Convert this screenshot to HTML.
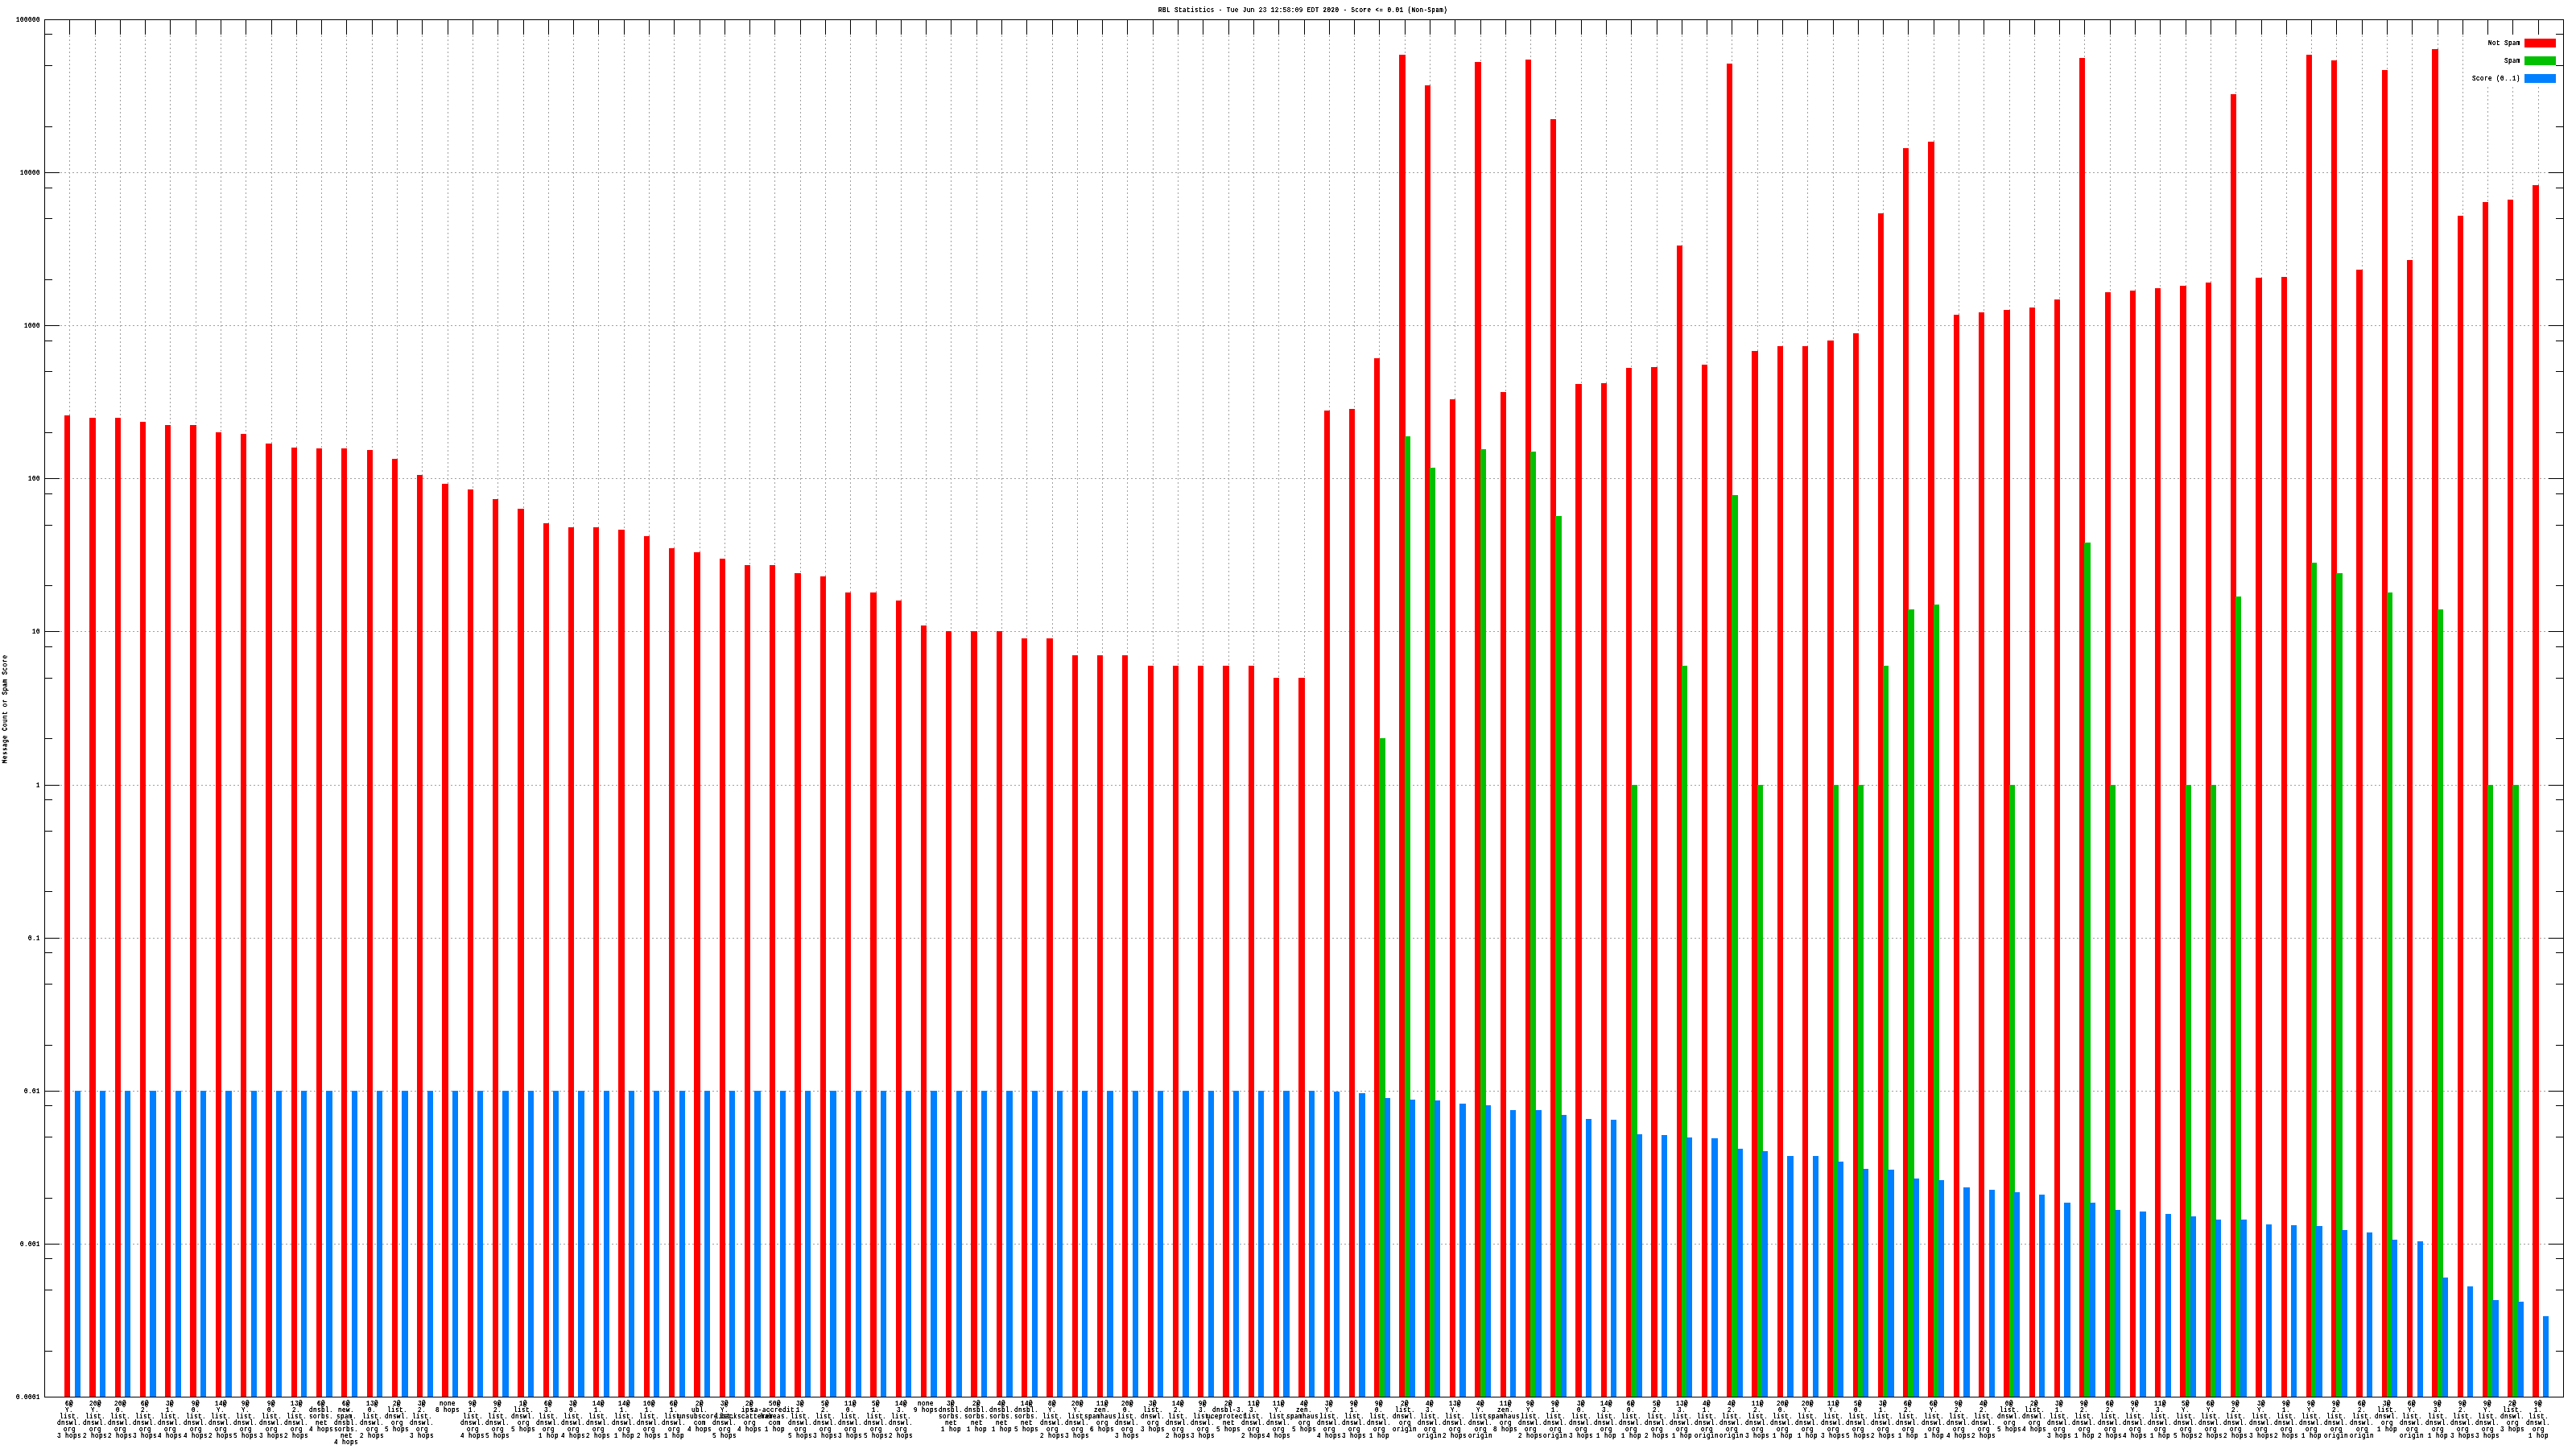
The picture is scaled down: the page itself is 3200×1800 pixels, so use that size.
<!DOCTYPE html>
<html lang="en"><head><meta charset="utf-8"><title>RBL Statistics</title>
<style>
html,body{margin:0;padding:0;background:#fff}
svg{display:block}
text{font-family:"Liberation Mono",monospace;font-size:7.5px;fill:#000;white-space:pre;letter-spacing:0.5px}
.g{stroke:#a0a0a0;stroke-width:1;stroke-dasharray:2 3;fill:none}
.k{stroke:#000;stroke-width:1;fill:none}
.r{fill:#f00}.n{fill:#00c000}.b{fill:#0080ff}
</style></head><body>
<svg width="3200" height="1800" viewBox="0 0 3200 1800" shape-rendering="crispEdges">
<defs><filter id="tf" x="0" y="0" width="3200" height="1800" filterUnits="userSpaceOnUse" color-interpolation-filters="sRGB"><feComponentTransfer><feFuncA type="linear" slope="3" intercept="-0.4"/></feComponentTransfer></filter></defs>
<rect width="3200" height="1800" fill="#fff"/>
<g class="g">
<line x1="86.5" y1="24" x2="86.5" y2="1735"/><line x1="118.5" y1="24" x2="118.5" y2="1735"/><line x1="149.5" y1="24" x2="149.5" y2="1735"/><line x1="180.5" y1="24" x2="180.5" y2="1735"/><line x1="211.5" y1="24" x2="211.5" y2="1735"/><line x1="243.5" y1="24" x2="243.5" y2="1735"/><line x1="274.5" y1="24" x2="274.5" y2="1735"/><line x1="305.5" y1="24" x2="305.5" y2="1735"/><line x1="337.5" y1="24" x2="337.5" y2="1735"/><line x1="368.5" y1="24" x2="368.5" y2="1735"/><line x1="399.5" y1="24" x2="399.5" y2="1735"/><line x1="430.5" y1="24" x2="430.5" y2="1735"/><line x1="462.5" y1="24" x2="462.5" y2="1735"/><line x1="493.5" y1="24" x2="493.5" y2="1735"/><line x1="524.5" y1="24" x2="524.5" y2="1735"/><line x1="556.5" y1="24" x2="556.5" y2="1735"/><line x1="587.5" y1="24" x2="587.5" y2="1735"/><line x1="618.5" y1="24" x2="618.5" y2="1735"/><line x1="650.5" y1="24" x2="650.5" y2="1735"/><line x1="681.5" y1="24" x2="681.5" y2="1735"/><line x1="712.5" y1="24" x2="712.5" y2="1735"/><line x1="743.5" y1="24" x2="743.5" y2="1735"/><line x1="775.5" y1="24" x2="775.5" y2="1735"/><line x1="806.5" y1="24" x2="806.5" y2="1735"/><line x1="837.5" y1="24" x2="837.5" y2="1735"/><line x1="869.5" y1="24" x2="869.5" y2="1735"/><line x1="900.5" y1="24" x2="900.5" y2="1735"/><line x1="931.5" y1="24" x2="931.5" y2="1735"/><line x1="962.5" y1="24" x2="962.5" y2="1735"/><line x1="994.5" y1="24" x2="994.5" y2="1735"/><line x1="1025.5" y1="24" x2="1025.5" y2="1735"/><line x1="1056.5" y1="24" x2="1056.5" y2="1735"/><line x1="1088.5" y1="24" x2="1088.5" y2="1735"/><line x1="1119.5" y1="24" x2="1119.5" y2="1735"/><line x1="1150.5" y1="24" x2="1150.5" y2="1735"/><line x1="1181.5" y1="24" x2="1181.5" y2="1735"/><line x1="1213.5" y1="24" x2="1213.5" y2="1735"/><line x1="1244.5" y1="24" x2="1244.5" y2="1735"/><line x1="1275.5" y1="24" x2="1275.5" y2="1735"/><line x1="1307.5" y1="24" x2="1307.5" y2="1735"/><line x1="1338.5" y1="24" x2="1338.5" y2="1735"/><line x1="1369.5" y1="24" x2="1369.5" y2="1735"/><line x1="1400.5" y1="24" x2="1400.5" y2="1735"/><line x1="1432.5" y1="24" x2="1432.5" y2="1735"/><line x1="1463.5" y1="24" x2="1463.5" y2="1735"/><line x1="1494.5" y1="24" x2="1494.5" y2="1735"/><line x1="1526.5" y1="24" x2="1526.5" y2="1735"/><line x1="1557.5" y1="24" x2="1557.5" y2="1735"/><line x1="1588.5" y1="24" x2="1588.5" y2="1735"/><line x1="1620.5" y1="24" x2="1620.5" y2="1735"/><line x1="1651.5" y1="24" x2="1651.5" y2="1735"/><line x1="1682.5" y1="24" x2="1682.5" y2="1735"/><line x1="1713.5" y1="24" x2="1713.5" y2="1735"/><line x1="1745.5" y1="24" x2="1745.5" y2="1735"/><line x1="1776.5" y1="24" x2="1776.5" y2="1735"/><line x1="1807.5" y1="24" x2="1807.5" y2="1735"/><line x1="1839.5" y1="24" x2="1839.5" y2="1735"/><line x1="1870.5" y1="24" x2="1870.5" y2="1735"/><line x1="1901.5" y1="24" x2="1901.5" y2="1735"/><line x1="1932.5" y1="24" x2="1932.5" y2="1735"/><line x1="1964.5" y1="24" x2="1964.5" y2="1735"/><line x1="1995.5" y1="24" x2="1995.5" y2="1735"/><line x1="2026.5" y1="24" x2="2026.5" y2="1735"/><line x1="2058.5" y1="24" x2="2058.5" y2="1735"/><line x1="2089.5" y1="24" x2="2089.5" y2="1735"/><line x1="2120.5" y1="24" x2="2120.5" y2="1735"/><line x1="2151.5" y1="24" x2="2151.5" y2="1735"/><line x1="2183.5" y1="24" x2="2183.5" y2="1735"/><line x1="2214.5" y1="24" x2="2214.5" y2="1735"/><line x1="2245.5" y1="24" x2="2245.5" y2="1735"/><line x1="2277.5" y1="24" x2="2277.5" y2="1735"/><line x1="2308.5" y1="24" x2="2308.5" y2="1735"/><line x1="2339.5" y1="24" x2="2339.5" y2="1735"/><line x1="2370.5" y1="24" x2="2370.5" y2="1735"/><line x1="2402.5" y1="24" x2="2402.5" y2="1735"/><line x1="2433.5" y1="24" x2="2433.5" y2="1735"/><line x1="2464.5" y1="24" x2="2464.5" y2="1735"/><line x1="2496.5" y1="24" x2="2496.5" y2="1735"/><line x1="2527.5" y1="24" x2="2527.5" y2="1735"/><line x1="2558.5" y1="24" x2="2558.5" y2="1735"/><line x1="2589.5" y1="24" x2="2589.5" y2="1735"/><line x1="2621.5" y1="24" x2="2621.5" y2="1735"/><line x1="2652.5" y1="24" x2="2652.5" y2="1735"/><line x1="2683.5" y1="24" x2="2683.5" y2="1735"/><line x1="2715.5" y1="24" x2="2715.5" y2="1735"/><line x1="2746.5" y1="24" x2="2746.5" y2="1735"/><line x1="2777.5" y1="24" x2="2777.5" y2="1735"/><line x1="2809.5" y1="24" x2="2809.5" y2="1735"/><line x1="2840.5" y1="24" x2="2840.5" y2="1735"/><line x1="2871.5" y1="24" x2="2871.5" y2="1735"/><line x1="2902.5" y1="24" x2="2902.5" y2="1735"/><line x1="2934.5" y1="24" x2="2934.5" y2="1735"/><line x1="2965.5" y1="24" x2="2965.5" y2="1735"/><line x1="2996.5" y1="24" x2="2996.5" y2="1735"/><line x1="3028.5" y1="24" x2="3028.5" y2="1735"/><line x1="3059.5" y1="24" x2="3059.5" y2="1735"/><line x1="3090.5" y1="108" x2="3090.5" y2="1735"/><line x1="3121.5" y1="108" x2="3121.5" y2="1735"/><line x1="3153.5" y1="108" x2="3153.5" y2="1735"/>
<line x1="55" y1="1545.5" x2="3184" y2="1545.5"/><line x1="55" y1="1355.5" x2="3184" y2="1355.5"/><line x1="55" y1="1165.5" x2="3184" y2="1165.5"/><line x1="55" y1="975.5" x2="3184" y2="975.5"/><line x1="55" y1="784.5" x2="3184" y2="784.5"/><line x1="55" y1="594.5" x2="3184" y2="594.5"/><line x1="55" y1="404.5" x2="3184" y2="404.5"/><line x1="55" y1="214.5" x2="3184" y2="214.5"/>
</g>
<path class="k" d="M86.5 24V43M118.5 24V43M149.5 24V43M180.5 24V43M211.5 24V43M243.5 24V43M274.5 24V43M305.5 24V43M337.5 24V43M368.5 24V43M399.5 24V43M430.5 24V43M462.5 24V43M493.5 24V43M524.5 24V43M556.5 24V43M587.5 24V43M618.5 24V43M650.5 24V43M681.5 24V43M712.5 24V43M743.5 24V43M775.5 24V43M806.5 24V43M837.5 24V43M869.5 24V43M900.5 24V43M931.5 24V43M962.5 24V43M994.5 24V43M1025.5 24V43M1056.5 24V43M1088.5 24V43M1119.5 24V43M1150.5 24V43M1181.5 24V43M1213.5 24V43M1244.5 24V43M1275.5 24V43M1307.5 24V43M1338.5 24V43M1369.5 24V43M1400.5 24V43M1432.5 24V43M1463.5 24V43M1494.5 24V43M1526.5 24V43M1557.5 24V43M1588.5 24V43M1620.5 24V43M1651.5 24V43M1682.5 24V43M1713.5 24V43M1745.5 24V43M1776.5 24V43M1807.5 24V43M1839.5 24V43M1870.5 24V43M1901.5 24V43M1932.5 24V43M1964.5 24V43M1995.5 24V43M2026.5 24V43M2058.5 24V43M2089.5 24V43M2120.5 24V43M2151.5 24V43M2183.5 24V43M2214.5 24V43M2245.5 24V43M2277.5 24V43M2308.5 24V43M2339.5 24V43M2370.5 24V43M2402.5 24V43M2433.5 24V43M2464.5 24V43M2496.5 24V43M2527.5 24V43M2558.5 24V43M2589.5 24V43M2621.5 24V43M2652.5 24V43M2683.5 24V43M2715.5 24V43M2746.5 24V43M2777.5 24V43M2809.5 24V43M2840.5 24V43M2871.5 24V43M2902.5 24V43M2934.5 24V43M2965.5 24V43M2996.5 24V43M3028.5 24V43M3059.5 24V43M3090.5 24V43M3121.5 24V43M3153.5 24V43M55 1678.5H65M3185 1678.5H3175M55 1602.5H65M3185 1602.5H3175M55 1563.5H65M3185 1563.5H3175M55 1545.5H74M3185 1545.5H3166M55 1488.5H65M3185 1488.5H3175M55 1412.5H65M3185 1412.5H3175M55 1373.5H65M3185 1373.5H3175M55 1355.5H74M3185 1355.5H3166M55 1298.5H65M3185 1298.5H3175M55 1222.5H65M3185 1222.5H3175M55 1183.5H65M3185 1183.5H3175M55 1165.5H74M3185 1165.5H3166M55 1107.5H65M3185 1107.5H3175M55 1032.5H65M3185 1032.5H3175M55 993.5H65M3185 993.5H3175M55 975.5H74M3185 975.5H3166M55 917.5H65M3185 917.5H3175M55 842.5H65M3185 842.5H3175M55 803.5H65M3185 803.5H3175M55 784.5H74M3185 784.5H3166M55 727.5H65M3185 727.5H3175M55 652.5H65M3185 652.5H3175M55 613.5H65M3185 613.5H3175M55 594.5H74M3185 594.5H3166M55 537.5H65M3185 537.5H3175M55 461.5H65M3185 461.5H3175M55 423.5H65M3185 423.5H3175M55 404.5H74M3185 404.5H3166M55 347.5H65M3185 347.5H3175M55 271.5H65M3185 271.5H3175M55 233.5H65M3185 233.5H3175M55 214.5H74M3185 214.5H3166M55 157.5H65M3185 157.5H3175M55 81.5H65M3185 81.5H3175M55 42.5H65M3185 42.5H3175"/>
<rect class="r" x="80" y="516" width="7" height="1219"/><rect class="b" x="93" y="1355" width="7" height="380"/>
<rect class="r" x="111" y="519" width="8" height="1216"/><rect class="b" x="124" y="1355" width="7" height="380"/>
<rect class="r" x="143" y="519" width="7" height="1216"/><rect class="b" x="155" y="1355" width="7" height="380"/>
<rect class="r" x="174" y="524" width="7" height="1211"/><rect class="b" x="186" y="1355" width="8" height="380"/>
<rect class="r" x="205" y="528" width="7" height="1207"/><rect class="b" x="218" y="1355" width="7" height="380"/>
<rect class="r" x="236" y="528" width="8" height="1207"/><rect class="b" x="249" y="1355" width="7" height="380"/>
<rect class="r" x="268" y="537" width="7" height="1198"/><rect class="b" x="280" y="1355" width="8" height="380"/>
<rect class="r" x="299" y="539" width="7" height="1196"/><rect class="b" x="312" y="1355" width="7" height="380"/>
<rect class="r" x="330" y="551" width="8" height="1184"/><rect class="b" x="343" y="1355" width="7" height="380"/>
<rect class="r" x="362" y="556" width="7" height="1179"/><rect class="b" x="374" y="1355" width="7" height="380"/>
<rect class="r" x="393" y="557" width="7" height="1178"/><rect class="b" x="405" y="1355" width="8" height="380"/>
<rect class="r" x="424" y="557" width="7" height="1178"/><rect class="b" x="437" y="1355" width="7" height="380"/>
<rect class="r" x="456" y="559" width="7" height="1176"/><rect class="b" x="468" y="1355" width="7" height="380"/>
<rect class="r" x="487" y="570" width="7" height="1165"/><rect class="b" x="499" y="1355" width="8" height="380"/>
<rect class="r" x="518" y="590" width="7" height="1145"/><rect class="b" x="531" y="1355" width="7" height="380"/>
<rect class="r" x="549" y="601" width="8" height="1134"/><rect class="b" x="562" y="1355" width="7" height="380"/>
<rect class="r" x="581" y="608" width="7" height="1127"/><rect class="b" x="593" y="1355" width="7" height="380"/>
<rect class="r" x="612" y="620" width="7" height="1115"/><rect class="b" x="624" y="1355" width="8" height="380"/>
<rect class="r" x="643" y="632" width="8" height="1103"/><rect class="b" x="656" y="1355" width="7" height="380"/>
<rect class="r" x="675" y="650" width="7" height="1085"/><rect class="b" x="687" y="1355" width="7" height="380"/>
<rect class="r" x="706" y="655" width="7" height="1080"/><rect class="b" x="718" y="1355" width="8" height="380"/>
<rect class="r" x="737" y="655" width="7" height="1080"/><rect class="b" x="750" y="1355" width="7" height="380"/>
<rect class="r" x="768" y="658" width="8" height="1077"/><rect class="b" x="781" y="1355" width="7" height="380"/>
<rect class="r" x="800" y="666" width="7" height="1069"/><rect class="b" x="812" y="1355" width="7" height="380"/>
<rect class="r" x="831" y="681" width="7" height="1054"/><rect class="b" x="844" y="1355" width="7" height="380"/>
<rect class="r" x="862" y="686" width="8" height="1049"/><rect class="b" x="875" y="1355" width="7" height="380"/>
<rect class="r" x="894" y="694" width="7" height="1041"/><rect class="b" x="906" y="1355" width="7" height="380"/>
<rect class="r" x="925" y="702" width="7" height="1033"/><rect class="b" x="937" y="1355" width="8" height="380"/>
<rect class="r" x="956" y="702" width="7" height="1033"/><rect class="b" x="969" y="1355" width="7" height="380"/>
<rect class="r" x="987" y="712" width="8" height="1023"/><rect class="b" x="1000" y="1355" width="7" height="380"/>
<rect class="r" x="1019" y="716" width="7" height="1019"/><rect class="b" x="1031" y="1355" width="8" height="380"/>
<rect class="r" x="1050" y="736" width="7" height="999"/><rect class="b" x="1063" y="1355" width="7" height="380"/>
<rect class="r" x="1081" y="736" width="8" height="999"/><rect class="b" x="1094" y="1355" width="7" height="380"/>
<rect class="r" x="1113" y="746" width="7" height="989"/><rect class="b" x="1125" y="1355" width="7" height="380"/>
<rect class="r" x="1144" y="777" width="7" height="958"/><rect class="b" x="1156" y="1355" width="8" height="380"/>
<rect class="r" x="1175" y="784" width="7" height="951"/><rect class="b" x="1188" y="1355" width="7" height="380"/>
<rect class="r" x="1206" y="784" width="8" height="951"/><rect class="b" x="1219" y="1355" width="7" height="380"/>
<rect class="r" x="1238" y="784" width="7" height="951"/><rect class="b" x="1250" y="1355" width="8" height="380"/>
<rect class="r" x="1269" y="793" width="7" height="942"/><rect class="b" x="1282" y="1355" width="7" height="380"/>
<rect class="r" x="1300" y="793" width="8" height="942"/><rect class="b" x="1313" y="1355" width="7" height="380"/>
<rect class="r" x="1332" y="814" width="7" height="921"/><rect class="b" x="1344" y="1355" width="7" height="380"/>
<rect class="r" x="1363" y="814" width="7" height="921"/><rect class="b" x="1375" y="1355" width="8" height="380"/>
<rect class="r" x="1394" y="814" width="7" height="921"/><rect class="b" x="1407" y="1355" width="7" height="380"/>
<rect class="r" x="1426" y="827" width="7" height="908"/><rect class="b" x="1438" y="1355" width="7" height="380"/>
<rect class="r" x="1457" y="827" width="7" height="908"/><rect class="b" x="1469" y="1355" width="8" height="380"/>
<rect class="r" x="1488" y="827" width="7" height="908"/><rect class="b" x="1501" y="1355" width="7" height="380"/>
<rect class="r" x="1519" y="827" width="8" height="908"/><rect class="b" x="1532" y="1355" width="7" height="380"/>
<rect class="r" x="1551" y="827" width="7" height="908"/><rect class="b" x="1563" y="1355" width="7" height="380"/>
<rect class="r" x="1582" y="842" width="7" height="893"/><rect class="b" x="1594" y="1355" width="8" height="380"/>
<rect class="r" x="1613" y="842" width="8" height="893"/><rect class="b" x="1626" y="1355" width="7" height="380"/>
<rect class="r" x="1645" y="510" width="7" height="1225"/><rect class="b" x="1657" y="1356" width="7" height="379"/>
<rect class="r" x="1676" y="508" width="7" height="1227"/><rect class="b" x="1688" y="1358" width="8" height="377"/>
<rect class="r" x="1707" y="445" width="7" height="1290"/><rect class="n" x="1713" y="917" width="8" height="818"/><rect class="b" x="1720" y="1364" width="7" height="371"/>
<rect class="r" x="1738" y="68" width="8" height="1667"/><rect class="n" x="1745" y="542" width="7" height="1193"/><rect class="b" x="1751" y="1366" width="7" height="369"/>
<rect class="r" x="1770" y="106" width="7" height="1629"/><rect class="n" x="1776" y="581" width="7" height="1154"/><rect class="b" x="1782" y="1367" width="7" height="368"/>
<rect class="r" x="1801" y="496" width="7" height="1239"/><rect class="b" x="1813" y="1371" width="8" height="364"/>
<rect class="r" x="1832" y="77" width="8" height="1658"/><rect class="n" x="1839" y="558" width="7" height="1177"/><rect class="b" x="1845" y="1373" width="7" height="362"/>
<rect class="r" x="1864" y="487" width="7" height="1248"/><rect class="b" x="1876" y="1379" width="7" height="356"/>
<rect class="r" x="1895" y="74" width="7" height="1661"/><rect class="n" x="1901" y="561" width="7" height="1174"/><rect class="b" x="1907" y="1379" width="8" height="356"/>
<rect class="r" x="1926" y="148" width="7" height="1587"/><rect class="n" x="1932" y="641" width="8" height="1094"/><rect class="b" x="1939" y="1385" width="7" height="350"/>
<rect class="r" x="1957" y="477" width="8" height="1258"/><rect class="b" x="1970" y="1390" width="7" height="345"/>
<rect class="r" x="1989" y="476" width="7" height="1259"/><rect class="b" x="2001" y="1391" width="7" height="344"/>
<rect class="r" x="2020" y="457" width="7" height="1278"/><rect class="n" x="2026" y="975" width="8" height="760"/><rect class="b" x="2033" y="1409" width="7" height="326"/>
<rect class="r" x="2051" y="456" width="8" height="1279"/><rect class="b" x="2064" y="1410" width="7" height="325"/>
<rect class="r" x="2083" y="305" width="7" height="1430"/><rect class="n" x="2089" y="827" width="7" height="908"/><rect class="b" x="2095" y="1413" width="7" height="322"/>
<rect class="r" x="2114" y="453" width="7" height="1282"/><rect class="b" x="2126" y="1414" width="8" height="321"/>
<rect class="r" x="2145" y="79" width="7" height="1656"/><rect class="n" x="2151" y="615" width="8" height="1120"/><rect class="b" x="2158" y="1427" width="7" height="308"/>
<rect class="r" x="2176" y="436" width="8" height="1299"/><rect class="n" x="2183" y="975" width="7" height="760"/><rect class="b" x="2189" y="1430" width="7" height="305"/>
<rect class="r" x="2208" y="430" width="7" height="1305"/><rect class="b" x="2220" y="1436" width="8" height="299"/>
<rect class="r" x="2239" y="430" width="7" height="1305"/><rect class="b" x="2252" y="1436" width="7" height="299"/>
<rect class="r" x="2270" y="423" width="8" height="1312"/><rect class="n" x="2277" y="975" width="7" height="760"/><rect class="b" x="2283" y="1443" width="7" height="292"/>
<rect class="r" x="2302" y="414" width="7" height="1321"/><rect class="n" x="2308" y="975" width="7" height="760"/><rect class="b" x="2314" y="1452" width="7" height="283"/>
<rect class="r" x="2333" y="265" width="7" height="1470"/><rect class="n" x="2339" y="827" width="7" height="908"/><rect class="b" x="2345" y="1453" width="8" height="282"/>
<rect class="r" x="2364" y="184" width="7" height="1551"/><rect class="n" x="2370" y="757" width="8" height="978"/><rect class="b" x="2377" y="1464" width="7" height="271"/>
<rect class="r" x="2395" y="176" width="8" height="1559"/><rect class="n" x="2402" y="751" width="7" height="984"/><rect class="b" x="2408" y="1466" width="7" height="269"/>
<rect class="r" x="2427" y="391" width="7" height="1344"/><rect class="b" x="2439" y="1475" width="8" height="260"/>
<rect class="r" x="2458" y="388" width="7" height="1347"/><rect class="b" x="2471" y="1478" width="7" height="257"/>
<rect class="r" x="2489" y="385" width="8" height="1350"/><rect class="n" x="2496" y="975" width="7" height="760"/><rect class="b" x="2502" y="1481" width="7" height="254"/>
<rect class="r" x="2521" y="382" width="7" height="1353"/><rect class="b" x="2533" y="1484" width="7" height="251"/>
<rect class="r" x="2552" y="372" width="7" height="1363"/><rect class="b" x="2564" y="1494" width="8" height="241"/>
<rect class="r" x="2583" y="72" width="7" height="1663"/><rect class="n" x="2589" y="674" width="8" height="1061"/><rect class="b" x="2596" y="1494" width="7" height="241"/>
<rect class="r" x="2615" y="363" width="7" height="1372"/><rect class="n" x="2621" y="975" width="7" height="760"/><rect class="b" x="2627" y="1503" width="7" height="232"/>
<rect class="r" x="2646" y="361" width="7" height="1374"/><rect class="b" x="2658" y="1505" width="8" height="230"/>
<rect class="r" x="2677" y="358" width="7" height="1377"/><rect class="b" x="2690" y="1508" width="7" height="227"/>
<rect class="r" x="2708" y="355" width="8" height="1380"/><rect class="n" x="2715" y="975" width="7" height="760"/><rect class="b" x="2721" y="1511" width="7" height="224"/>
<rect class="r" x="2740" y="351" width="7" height="1384"/><rect class="n" x="2746" y="975" width="7" height="760"/><rect class="b" x="2752" y="1515" width="7" height="220"/>
<rect class="r" x="2771" y="117" width="7" height="1618"/><rect class="n" x="2777" y="741" width="7" height="994"/><rect class="b" x="2783" y="1515" width="8" height="220"/>
<rect class="r" x="2802" y="345" width="8" height="1390"/><rect class="b" x="2815" y="1521" width="7" height="214"/>
<rect class="r" x="2834" y="344" width="7" height="1391"/><rect class="b" x="2846" y="1522" width="7" height="213"/>
<rect class="r" x="2865" y="68" width="7" height="1667"/><rect class="n" x="2871" y="699" width="7" height="1036"/><rect class="b" x="2877" y="1523" width="8" height="212"/>
<rect class="r" x="2896" y="75" width="7" height="1660"/><rect class="n" x="2902" y="712" width="8" height="1023"/><rect class="b" x="2909" y="1528" width="7" height="207"/>
<rect class="r" x="2927" y="335" width="8" height="1400"/><rect class="b" x="2940" y="1531" width="7" height="204"/>
<rect class="r" x="2959" y="87" width="7" height="1648"/><rect class="n" x="2965" y="736" width="7" height="999"/><rect class="b" x="2971" y="1540" width="7" height="195"/>
<rect class="r" x="2990" y="323" width="7" height="1412"/><rect class="b" x="3003" y="1542" width="7" height="193"/>
<rect class="r" x="3021" y="61" width="8" height="1674"/><rect class="n" x="3028" y="757" width="7" height="978"/><rect class="b" x="3034" y="1587" width="7" height="148"/>
<rect class="r" x="3053" y="268" width="7" height="1467"/><rect class="b" x="3065" y="1598" width="7" height="137"/>
<rect class="r" x="3084" y="251" width="7" height="1484"/><rect class="n" x="3090" y="975" width="7" height="760"/><rect class="b" x="3096" y="1615" width="8" height="120"/>
<rect class="r" x="3115" y="248" width="7" height="1487"/><rect class="n" x="3121" y="975" width="8" height="760"/><rect class="b" x="3128" y="1617" width="7" height="118"/>
<rect class="r" x="3146" y="230" width="8" height="1505"/><rect class="b" x="3159" y="1635" width="7" height="100"/>
<rect class="k" x="55.5" y="24.5" width="3129" height="1711"/>
<rect class="r" x="3136" y="48" width="39" height="11"/><rect class="n" x="3136" y="70" width="39" height="11"/><rect class="b" x="3136" y="92" width="39" height="11"/>
<g filter="url(#tf)"><g transform="scale(1,1.2)">
<text x="3091" y="46.67">Not Spam</text><text x="3111" y="65">Spam</text><text x="3071" y="83.33">Score (0..1)</text>
<text x="1439" y="12.5">RBL Statistics - Tue Jun 23 12:58:09 EDT 2020 - Score &lt;= 0.01 (Non-Spam)</text>
<text x="20" y="22.5">100000</text><text x="25" y="180.83">10000</text><text x="30" y="339.17">1000</text><text x="35" y="497.5">100</text><text x="40" y="655.83">10</text><text x="45" y="815">1</text><text x="35" y="973.33">0.1</text><text x="30" y="1131.67">0.01</text><text x="25" y="1290">0.001</text><text x="20" y="1448.33">0.0001</text>
<text><tspan x="81" y="1455">6@</tspan><tspan x="81" y="1461.67">Y.</tspan><tspan x="74" y="1468.33">list.</tspan><tspan x="71" y="1475">dnswl.</tspan><tspan x="79" y="1481.67">org</tspan><tspan x="71" y="1488.33">3 hops</tspan></text>
<text><tspan x="111" y="1455">20@</tspan><tspan x="113" y="1461.67">Y.</tspan><tspan x="106" y="1468.33">list.</tspan><tspan x="103" y="1475">dnswl.</tspan><tspan x="111" y="1481.67">org</tspan><tspan x="103" y="1488.33">2 hops</tspan></text>
<text><tspan x="142" y="1455">20@</tspan><tspan x="144" y="1461.67">0.</tspan><tspan x="137" y="1468.33">list.</tspan><tspan x="134" y="1475">dnswl.</tspan><tspan x="142" y="1481.67">org</tspan><tspan x="134" y="1488.33">2 hops</tspan></text>
<text><tspan x="175" y="1455">6@</tspan><tspan x="175" y="1461.67">2.</tspan><tspan x="168" y="1468.33">list.</tspan><tspan x="165" y="1475">dnswl.</tspan><tspan x="173" y="1481.67">org</tspan><tspan x="165" y="1488.33">3 hops</tspan></text>
<text><tspan x="206" y="1455">3@</tspan><tspan x="206" y="1461.67">1.</tspan><tspan x="199" y="1468.33">list.</tspan><tspan x="196" y="1475">dnswl.</tspan><tspan x="204" y="1481.67">org</tspan><tspan x="196" y="1488.33">4 hops</tspan></text>
<text><tspan x="238" y="1455">9@</tspan><tspan x="238" y="1461.67">0.</tspan><tspan x="231" y="1468.33">list.</tspan><tspan x="228" y="1475">dnswl.</tspan><tspan x="236" y="1481.67">org</tspan><tspan x="228" y="1488.33">4 hops</tspan></text>
<text><tspan x="267" y="1455">14@</tspan><tspan x="269" y="1461.67">Y.</tspan><tspan x="262" y="1468.33">list.</tspan><tspan x="259" y="1475">dnswl.</tspan><tspan x="267" y="1481.67">org</tspan><tspan x="259" y="1488.33">2 hops</tspan></text>
<text><tspan x="300" y="1455">9@</tspan><tspan x="300" y="1461.67">Y.</tspan><tspan x="293" y="1468.33">list.</tspan><tspan x="290" y="1475">dnswl.</tspan><tspan x="298" y="1481.67">org</tspan><tspan x="290" y="1488.33">5 hops</tspan></text>
<text><tspan x="332" y="1455">9@</tspan><tspan x="332" y="1461.67">0.</tspan><tspan x="325" y="1468.33">list.</tspan><tspan x="322" y="1475">dnswl.</tspan><tspan x="330" y="1481.67">org</tspan><tspan x="322" y="1488.33">3 hops</tspan></text>
<text><tspan x="361" y="1455">13@</tspan><tspan x="363" y="1461.67">2.</tspan><tspan x="356" y="1468.33">list.</tspan><tspan x="353" y="1475">dnswl.</tspan><tspan x="361" y="1481.67">org</tspan><tspan x="353" y="1488.33">2 hops</tspan></text>
<text><tspan x="394" y="1455">6@</tspan><tspan x="384" y="1461.67">dnsbl.</tspan><tspan x="384" y="1468.33">sorbs.</tspan><tspan x="392" y="1475">net</tspan><tspan x="384" y="1481.67">4 hops</tspan></text>
<text><tspan x="425" y="1455">6@</tspan><tspan x="420" y="1461.67">new.</tspan><tspan x="418" y="1468.33">spam.</tspan><tspan x="415" y="1475">dnsbl.</tspan><tspan x="415" y="1481.67">sorbs.</tspan><tspan x="423" y="1488.33">net</tspan><tspan x="415" y="1495">4 hops</tspan></text>
<text><tspan x="455" y="1455">13@</tspan><tspan x="457" y="1461.67">0.</tspan><tspan x="450" y="1468.33">list.</tspan><tspan x="447" y="1475">dnswl.</tspan><tspan x="455" y="1481.67">org</tspan><tspan x="447" y="1488.33">2 hops</tspan></text>
<text><tspan x="488" y="1455">2@</tspan><tspan x="481" y="1461.67">list.</tspan><tspan x="478" y="1468.33">dnswl.</tspan><tspan x="486" y="1475">org</tspan><tspan x="478" y="1481.67">5 hops</tspan></text>
<text><tspan x="519" y="1455">3@</tspan><tspan x="519" y="1461.67">2.</tspan><tspan x="512" y="1468.33">list.</tspan><tspan x="509" y="1475">dnswl.</tspan><tspan x="517" y="1481.67">org</tspan><tspan x="509" y="1488.33">3 hops</tspan></text>
<text><tspan x="546" y="1455">none</tspan><tspan x="541" y="1461.67">8 hops</tspan></text>
<text><tspan x="582" y="1455">9@</tspan><tspan x="582" y="1461.67">1.</tspan><tspan x="575" y="1468.33">list.</tspan><tspan x="572" y="1475">dnswl.</tspan><tspan x="580" y="1481.67">org</tspan><tspan x="572" y="1488.33">4 hops</tspan></text>
<text><tspan x="613" y="1455">9@</tspan><tspan x="613" y="1461.67">2.</tspan><tspan x="606" y="1468.33">list.</tspan><tspan x="603" y="1475">dnswl.</tspan><tspan x="611" y="1481.67">org</tspan><tspan x="603" y="1488.33">5 hops</tspan></text>
<text><tspan x="645" y="1455">1@</tspan><tspan x="638" y="1461.67">list.</tspan><tspan x="635" y="1468.33">dnswl.</tspan><tspan x="643" y="1475">org</tspan><tspan x="635" y="1481.67">5 hops</tspan></text>
<text><tspan x="676" y="1455">6@</tspan><tspan x="676" y="1461.67">3.</tspan><tspan x="669" y="1468.33">list.</tspan><tspan x="666" y="1475">dnswl.</tspan><tspan x="674" y="1481.67">org</tspan><tspan x="669" y="1488.33">1 hop</tspan></text>
<text><tspan x="707" y="1455">3@</tspan><tspan x="707" y="1461.67">0.</tspan><tspan x="700" y="1468.33">list.</tspan><tspan x="697" y="1475">dnswl.</tspan><tspan x="705" y="1481.67">org</tspan><tspan x="697" y="1488.33">4 hops</tspan></text>
<text><tspan x="736" y="1455">14@</tspan><tspan x="738" y="1461.67">1.</tspan><tspan x="731" y="1468.33">list.</tspan><tspan x="728" y="1475">dnswl.</tspan><tspan x="736" y="1481.67">org</tspan><tspan x="728" y="1488.33">2 hops</tspan></text>
<text><tspan x="768" y="1455">14@</tspan><tspan x="770" y="1461.67">1.</tspan><tspan x="763" y="1468.33">list.</tspan><tspan x="760" y="1475">dnswl.</tspan><tspan x="768" y="1481.67">org</tspan><tspan x="763" y="1488.33">1 hop</tspan></text>
<text><tspan x="799" y="1455">10@</tspan><tspan x="801" y="1461.67">1.</tspan><tspan x="794" y="1468.33">list.</tspan><tspan x="791" y="1475">dnswl.</tspan><tspan x="799" y="1481.67">org</tspan><tspan x="791" y="1488.33">2 hops</tspan></text>
<text><tspan x="832" y="1455">6@</tspan><tspan x="832" y="1461.67">1.</tspan><tspan x="825" y="1468.33">list.</tspan><tspan x="822" y="1475">dnswl.</tspan><tspan x="830" y="1481.67">org</tspan><tspan x="825" y="1488.33">1 hop</tspan></text>
<text><tspan x="864" y="1455">2@</tspan><tspan x="859" y="1461.67">ubl.</tspan><tspan x="842" y="1468.33">unsubscore.</tspan><tspan x="862" y="1475">com</tspan><tspan x="854" y="1481.67">4 hops</tspan></text>
<text><tspan x="895" y="1455">3@</tspan><tspan x="895" y="1461.67">Y.</tspan><tspan x="888" y="1468.33">list.</tspan><tspan x="885" y="1475">dnswl.</tspan><tspan x="893" y="1481.67">org</tspan><tspan x="885" y="1488.33">5 hops</tspan></text>
<text><tspan x="926" y="1455">2@</tspan><tspan x="921" y="1461.67">ips.</tspan><tspan x="896" y="1468.33">backscatterer.</tspan><tspan x="924" y="1475">org</tspan><tspan x="916" y="1481.67">4 hops</tspan></text>
<text><tspan x="955" y="1455">50@</tspan><tspan x="932" y="1461.67">sa-accredit.</tspan><tspan x="945" y="1468.33">habeas.</tspan><tspan x="955" y="1475">com</tspan><tspan x="950" y="1481.67">1 hop</tspan></text>
<text><tspan x="989" y="1455">3@</tspan><tspan x="989" y="1461.67">1.</tspan><tspan x="982" y="1468.33">list.</tspan><tspan x="979" y="1475">dnswl.</tspan><tspan x="987" y="1481.67">org</tspan><tspan x="979" y="1488.33">5 hops</tspan></text>
<text><tspan x="1020" y="1455">5@</tspan><tspan x="1020" y="1461.67">2.</tspan><tspan x="1013" y="1468.33">list.</tspan><tspan x="1010" y="1475">dnswl.</tspan><tspan x="1018" y="1481.67">org</tspan><tspan x="1010" y="1488.33">3 hops</tspan></text>
<text><tspan x="1049" y="1455">11@</tspan><tspan x="1051" y="1461.67">0.</tspan><tspan x="1044" y="1468.33">list.</tspan><tspan x="1041" y="1475">dnswl.</tspan><tspan x="1049" y="1481.67">org</tspan><tspan x="1041" y="1488.33">3 hops</tspan></text>
<text><tspan x="1083" y="1455">5@</tspan><tspan x="1083" y="1461.67">1.</tspan><tspan x="1076" y="1468.33">list.</tspan><tspan x="1073" y="1475">dnswl.</tspan><tspan x="1081" y="1481.67">org</tspan><tspan x="1073" y="1488.33">5 hops</tspan></text>
<text><tspan x="1112" y="1455">14@</tspan><tspan x="1114" y="1461.67">3.</tspan><tspan x="1107" y="1468.33">list.</tspan><tspan x="1104" y="1475">dnswl.</tspan><tspan x="1112" y="1481.67">org</tspan><tspan x="1104" y="1488.33">2 hops</tspan></text>
<text><tspan x="1140" y="1455">none</tspan><tspan x="1135" y="1461.67">9 hops</tspan></text>
<text><tspan x="1176" y="1455">3@</tspan><tspan x="1166" y="1461.67">dnsbl.</tspan><tspan x="1166" y="1468.33">sorbs.</tspan><tspan x="1174" y="1475">net</tspan><tspan x="1169" y="1481.67">1 hop</tspan></text>
<text><tspan x="1208" y="1455">2@</tspan><tspan x="1198" y="1461.67">dnsbl.</tspan><tspan x="1198" y="1468.33">sorbs.</tspan><tspan x="1206" y="1475">net</tspan><tspan x="1201" y="1481.67">1 hop</tspan></text>
<text><tspan x="1239" y="1455">4@</tspan><tspan x="1229" y="1461.67">dnsbl.</tspan><tspan x="1229" y="1468.33">sorbs.</tspan><tspan x="1237" y="1475">net</tspan><tspan x="1232" y="1481.67">1 hop</tspan></text>
<text><tspan x="1268" y="1455">14@</tspan><tspan x="1260" y="1461.67">dnsbl.</tspan><tspan x="1260" y="1468.33">sorbs.</tspan><tspan x="1268" y="1475">net</tspan><tspan x="1260" y="1481.67">5 hops</tspan></text>
<text><tspan x="1302" y="1455">8@</tspan><tspan x="1302" y="1461.67">Y.</tspan><tspan x="1295" y="1468.33">list.</tspan><tspan x="1292" y="1475">dnswl.</tspan><tspan x="1300" y="1481.67">org</tspan><tspan x="1292" y="1488.33">2 hops</tspan></text>
<text><tspan x="1331" y="1455">20@</tspan><tspan x="1333" y="1461.67">Y.</tspan><tspan x="1326" y="1468.33">list.</tspan><tspan x="1323" y="1475">dnswl.</tspan><tspan x="1331" y="1481.67">org</tspan><tspan x="1323" y="1488.33">3 hops</tspan></text>
<text><tspan x="1362" y="1455">11@</tspan><tspan x="1359" y="1461.67">zen.</tspan><tspan x="1347" y="1468.33">spamhaus.</tspan><tspan x="1362" y="1475">org</tspan><tspan x="1354" y="1481.67">6 hops</tspan></text>
<text><tspan x="1393" y="1455">20@</tspan><tspan x="1395" y="1461.67">0.</tspan><tspan x="1388" y="1468.33">list.</tspan><tspan x="1385" y="1475">dnswl.</tspan><tspan x="1393" y="1481.67">org</tspan><tspan x="1385" y="1488.33">3 hops</tspan></text>
<text><tspan x="1427" y="1455">3@</tspan><tspan x="1420" y="1461.67">list.</tspan><tspan x="1417" y="1468.33">dnswl.</tspan><tspan x="1425" y="1475">org</tspan><tspan x="1417" y="1481.67">3 hops</tspan></text>
<text><tspan x="1456" y="1455">14@</tspan><tspan x="1458" y="1461.67">2.</tspan><tspan x="1451" y="1468.33">list.</tspan><tspan x="1448" y="1475">dnswl.</tspan><tspan x="1456" y="1481.67">org</tspan><tspan x="1448" y="1488.33">2 hops</tspan></text>
<text><tspan x="1489" y="1455">9@</tspan><tspan x="1489" y="1461.67">3.</tspan><tspan x="1482" y="1468.33">list.</tspan><tspan x="1479" y="1475">dnswl.</tspan><tspan x="1487" y="1481.67">org</tspan><tspan x="1479" y="1488.33">3 hops</tspan></text>
<text><tspan x="1521" y="1455">2@</tspan><tspan x="1506" y="1461.67">dnsbl-3.</tspan><tspan x="1499" y="1468.33">uceprotect.</tspan><tspan x="1519" y="1475">net</tspan><tspan x="1511" y="1481.67">5 hops</tspan></text>
<text><tspan x="1550" y="1455">11@</tspan><tspan x="1552" y="1461.67">3.</tspan><tspan x="1545" y="1468.33">list.</tspan><tspan x="1542" y="1475">dnswl.</tspan><tspan x="1550" y="1481.67">org</tspan><tspan x="1542" y="1488.33">2 hops</tspan></text>
<text><tspan x="1581" y="1455">11@</tspan><tspan x="1583" y="1461.67">Y.</tspan><tspan x="1576" y="1468.33">list.</tspan><tspan x="1573" y="1475">dnswl.</tspan><tspan x="1581" y="1481.67">org</tspan><tspan x="1573" y="1488.33">4 hops</tspan></text>
<text><tspan x="1615" y="1455">4@</tspan><tspan x="1610" y="1461.67">zen.</tspan><tspan x="1598" y="1468.33">spamhaus.</tspan><tspan x="1613" y="1475">org</tspan><tspan x="1605" y="1481.67">5 hops</tspan></text>
<text><tspan x="1646" y="1455">3@</tspan><tspan x="1646" y="1461.67">Y.</tspan><tspan x="1639" y="1468.33">list.</tspan><tspan x="1636" y="1475">dnswl.</tspan><tspan x="1644" y="1481.67">org</tspan><tspan x="1636" y="1488.33">4 hops</tspan></text>
<text><tspan x="1677" y="1455">9@</tspan><tspan x="1677" y="1461.67">1.</tspan><tspan x="1670" y="1468.33">list.</tspan><tspan x="1667" y="1475">dnswl.</tspan><tspan x="1675" y="1481.67">org</tspan><tspan x="1667" y="1488.33">3 hops</tspan></text>
<text><tspan x="1708" y="1455">9@</tspan><tspan x="1708" y="1461.67">0.</tspan><tspan x="1701" y="1468.33">list.</tspan><tspan x="1698" y="1475">dnswl.</tspan><tspan x="1706" y="1481.67">org</tspan><tspan x="1701" y="1488.33">1 hop</tspan></text>
<text><tspan x="1740" y="1455">2@</tspan><tspan x="1733" y="1461.67">list.</tspan><tspan x="1730" y="1468.33">dnswl.</tspan><tspan x="1738" y="1475">org</tspan><tspan x="1730" y="1481.67">origin</tspan></text>
<text><tspan x="1771" y="1455">4@</tspan><tspan x="1771" y="1461.67">3.</tspan><tspan x="1764" y="1468.33">list.</tspan><tspan x="1761" y="1475">dnswl.</tspan><tspan x="1769" y="1481.67">org</tspan><tspan x="1761" y="1488.33">origin</tspan></text>
<text><tspan x="1800" y="1455">13@</tspan><tspan x="1802" y="1461.67">Y.</tspan><tspan x="1795" y="1468.33">list.</tspan><tspan x="1792" y="1475">dnswl.</tspan><tspan x="1800" y="1481.67">org</tspan><tspan x="1792" y="1488.33">2 hops</tspan></text>
<text><tspan x="1834" y="1455">4@</tspan><tspan x="1834" y="1461.67">Y.</tspan><tspan x="1827" y="1468.33">list.</tspan><tspan x="1824" y="1475">dnswl.</tspan><tspan x="1832" y="1481.67">org</tspan><tspan x="1824" y="1488.33">origin</tspan></text>
<text><tspan x="1863" y="1455">11@</tspan><tspan x="1860" y="1461.67">zen.</tspan><tspan x="1848" y="1468.33">spamhaus.</tspan><tspan x="1863" y="1475">org</tspan><tspan x="1855" y="1481.67">8 hops</tspan></text>
<text><tspan x="1896" y="1455">9@</tspan><tspan x="1896" y="1461.67">Y.</tspan><tspan x="1889" y="1468.33">list.</tspan><tspan x="1886" y="1475">dnswl.</tspan><tspan x="1894" y="1481.67">org</tspan><tspan x="1886" y="1488.33">2 hops</tspan></text>
<text><tspan x="1927" y="1455">9@</tspan><tspan x="1927" y="1461.67">1.</tspan><tspan x="1920" y="1468.33">list.</tspan><tspan x="1917" y="1475">dnswl.</tspan><tspan x="1925" y="1481.67">org</tspan><tspan x="1917" y="1488.33">origin</tspan></text>
<text><tspan x="1959" y="1455">3@</tspan><tspan x="1959" y="1461.67">0.</tspan><tspan x="1952" y="1468.33">list.</tspan><tspan x="1949" y="1475">dnswl.</tspan><tspan x="1957" y="1481.67">org</tspan><tspan x="1949" y="1488.33">3 hops</tspan></text>
<text><tspan x="1988" y="1455">14@</tspan><tspan x="1990" y="1461.67">3.</tspan><tspan x="1983" y="1468.33">list.</tspan><tspan x="1980" y="1475">dnswl.</tspan><tspan x="1988" y="1481.67">org</tspan><tspan x="1983" y="1488.33">1 hop</tspan></text>
<text><tspan x="2021" y="1455">6@</tspan><tspan x="2021" y="1461.67">0.</tspan><tspan x="2014" y="1468.33">list.</tspan><tspan x="2011" y="1475">dnswl.</tspan><tspan x="2019" y="1481.67">org</tspan><tspan x="2014" y="1488.33">1 hop</tspan></text>
<text><tspan x="2053" y="1455">5@</tspan><tspan x="2053" y="1461.67">2.</tspan><tspan x="2046" y="1468.33">list.</tspan><tspan x="2043" y="1475">dnswl.</tspan><tspan x="2051" y="1481.67">org</tspan><tspan x="2043" y="1488.33">2 hops</tspan></text>
<text><tspan x="2082" y="1455">13@</tspan><tspan x="2084" y="1461.67">3.</tspan><tspan x="2077" y="1468.33">list.</tspan><tspan x="2074" y="1475">dnswl.</tspan><tspan x="2082" y="1481.67">org</tspan><tspan x="2077" y="1488.33">1 hop</tspan></text>
<text><tspan x="2115" y="1455">4@</tspan><tspan x="2115" y="1461.67">1.</tspan><tspan x="2108" y="1468.33">list.</tspan><tspan x="2105" y="1475">dnswl.</tspan><tspan x="2113" y="1481.67">org</tspan><tspan x="2105" y="1488.33">origin</tspan></text>
<text><tspan x="2146" y="1455">4@</tspan><tspan x="2146" y="1461.67">2.</tspan><tspan x="2139" y="1468.33">list.</tspan><tspan x="2136" y="1475">dnswl.</tspan><tspan x="2144" y="1481.67">org</tspan><tspan x="2136" y="1488.33">origin</tspan></text>
<text><tspan x="2176" y="1455">11@</tspan><tspan x="2178" y="1461.67">2.</tspan><tspan x="2171" y="1468.33">list.</tspan><tspan x="2168" y="1475">dnswl.</tspan><tspan x="2176" y="1481.67">org</tspan><tspan x="2168" y="1488.33">3 hops</tspan></text>
<text><tspan x="2207" y="1455">20@</tspan><tspan x="2209" y="1461.67">0.</tspan><tspan x="2202" y="1468.33">list.</tspan><tspan x="2199" y="1475">dnswl.</tspan><tspan x="2207" y="1481.67">org</tspan><tspan x="2202" y="1488.33">1 hop</tspan></text>
<text><tspan x="2238" y="1455">20@</tspan><tspan x="2240" y="1461.67">Y.</tspan><tspan x="2233" y="1468.33">list.</tspan><tspan x="2230" y="1475">dnswl.</tspan><tspan x="2238" y="1481.67">org</tspan><tspan x="2233" y="1488.33">1 hop</tspan></text>
<text><tspan x="2270" y="1455">11@</tspan><tspan x="2272" y="1461.67">Y.</tspan><tspan x="2265" y="1468.33">list.</tspan><tspan x="2262" y="1475">dnswl.</tspan><tspan x="2270" y="1481.67">org</tspan><tspan x="2262" y="1488.33">3 hops</tspan></text>
<text><tspan x="2303" y="1455">5@</tspan><tspan x="2303" y="1461.67">0.</tspan><tspan x="2296" y="1468.33">list.</tspan><tspan x="2293" y="1475">dnswl.</tspan><tspan x="2301" y="1481.67">org</tspan><tspan x="2293" y="1488.33">5 hops</tspan></text>
<text><tspan x="2334" y="1455">3@</tspan><tspan x="2334" y="1461.67">1.</tspan><tspan x="2327" y="1468.33">list.</tspan><tspan x="2324" y="1475">dnswl.</tspan><tspan x="2332" y="1481.67">org</tspan><tspan x="2324" y="1488.33">2 hops</tspan></text>
<text><tspan x="2365" y="1455">6@</tspan><tspan x="2365" y="1461.67">2.</tspan><tspan x="2358" y="1468.33">list.</tspan><tspan x="2355" y="1475">dnswl.</tspan><tspan x="2363" y="1481.67">org</tspan><tspan x="2358" y="1488.33">1 hop</tspan></text>
<text><tspan x="2397" y="1455">6@</tspan><tspan x="2397" y="1461.67">Y.</tspan><tspan x="2390" y="1468.33">list.</tspan><tspan x="2387" y="1475">dnswl.</tspan><tspan x="2395" y="1481.67">org</tspan><tspan x="2390" y="1488.33">1 hop</tspan></text>
<text><tspan x="2428" y="1455">9@</tspan><tspan x="2428" y="1461.67">2.</tspan><tspan x="2421" y="1468.33">list.</tspan><tspan x="2418" y="1475">dnswl.</tspan><tspan x="2426" y="1481.67">org</tspan><tspan x="2418" y="1488.33">4 hops</tspan></text>
<text><tspan x="2459" y="1455">4@</tspan><tspan x="2459" y="1461.67">2.</tspan><tspan x="2452" y="1468.33">list.</tspan><tspan x="2449" y="1475">dnswl.</tspan><tspan x="2457" y="1481.67">org</tspan><tspan x="2449" y="1488.33">2 hops</tspan></text>
<text><tspan x="2491" y="1455">0@</tspan><tspan x="2484" y="1461.67">list.</tspan><tspan x="2481" y="1468.33">dnswl.</tspan><tspan x="2489" y="1475">org</tspan><tspan x="2481" y="1481.67">5 hops</tspan></text>
<text><tspan x="2522" y="1455">2@</tspan><tspan x="2515" y="1461.67">list.</tspan><tspan x="2512" y="1468.33">dnswl.</tspan><tspan x="2520" y="1475">org</tspan><tspan x="2512" y="1481.67">4 hops</tspan></text>
<text><tspan x="2553" y="1455">3@</tspan><tspan x="2553" y="1461.67">1.</tspan><tspan x="2546" y="1468.33">list.</tspan><tspan x="2543" y="1475">dnswl.</tspan><tspan x="2551" y="1481.67">org</tspan><tspan x="2543" y="1488.33">3 hops</tspan></text>
<text><tspan x="2584" y="1455">9@</tspan><tspan x="2584" y="1461.67">2.</tspan><tspan x="2577" y="1468.33">list.</tspan><tspan x="2574" y="1475">dnswl.</tspan><tspan x="2582" y="1481.67">org</tspan><tspan x="2577" y="1488.33">1 hop</tspan></text>
<text><tspan x="2616" y="1455">6@</tspan><tspan x="2616" y="1461.67">2.</tspan><tspan x="2609" y="1468.33">list.</tspan><tspan x="2606" y="1475">dnswl.</tspan><tspan x="2614" y="1481.67">org</tspan><tspan x="2606" y="1488.33">2 hops</tspan></text>
<text><tspan x="2647" y="1455">9@</tspan><tspan x="2647" y="1461.67">Y.</tspan><tspan x="2640" y="1468.33">list.</tspan><tspan x="2637" y="1475">dnswl.</tspan><tspan x="2645" y="1481.67">org</tspan><tspan x="2637" y="1488.33">4 hops</tspan></text>
<text><tspan x="2676" y="1455">11@</tspan><tspan x="2678" y="1461.67">3.</tspan><tspan x="2671" y="1468.33">list.</tspan><tspan x="2668" y="1475">dnswl.</tspan><tspan x="2676" y="1481.67">org</tspan><tspan x="2671" y="1488.33">1 hop</tspan></text>
<text><tspan x="2710" y="1455">5@</tspan><tspan x="2710" y="1461.67">Y.</tspan><tspan x="2703" y="1468.33">list.</tspan><tspan x="2700" y="1475">dnswl.</tspan><tspan x="2708" y="1481.67">org</tspan><tspan x="2700" y="1488.33">5 hops</tspan></text>
<text><tspan x="2741" y="1455">6@</tspan><tspan x="2741" y="1461.67">Y.</tspan><tspan x="2734" y="1468.33">list.</tspan><tspan x="2731" y="1475">dnswl.</tspan><tspan x="2739" y="1481.67">org</tspan><tspan x="2731" y="1488.33">2 hops</tspan></text>
<text><tspan x="2772" y="1455">9@</tspan><tspan x="2772" y="1461.67">2.</tspan><tspan x="2765" y="1468.33">list.</tspan><tspan x="2762" y="1475">dnswl.</tspan><tspan x="2770" y="1481.67">org</tspan><tspan x="2762" y="1488.33">2 hops</tspan></text>
<text><tspan x="2804" y="1455">3@</tspan><tspan x="2804" y="1461.67">Y.</tspan><tspan x="2797" y="1468.33">list.</tspan><tspan x="2794" y="1475">dnswl.</tspan><tspan x="2802" y="1481.67">org</tspan><tspan x="2794" y="1488.33">3 hops</tspan></text>
<text><tspan x="2835" y="1455">9@</tspan><tspan x="2835" y="1461.67">1.</tspan><tspan x="2828" y="1468.33">list.</tspan><tspan x="2825" y="1475">dnswl.</tspan><tspan x="2833" y="1481.67">org</tspan><tspan x="2825" y="1488.33">2 hops</tspan></text>
<text><tspan x="2866" y="1455">9@</tspan><tspan x="2866" y="1461.67">Y.</tspan><tspan x="2859" y="1468.33">list.</tspan><tspan x="2856" y="1475">dnswl.</tspan><tspan x="2864" y="1481.67">org</tspan><tspan x="2859" y="1488.33">1 hop</tspan></text>
<text><tspan x="2897" y="1455">9@</tspan><tspan x="2897" y="1461.67">2.</tspan><tspan x="2890" y="1468.33">list.</tspan><tspan x="2887" y="1475">dnswl.</tspan><tspan x="2895" y="1481.67">org</tspan><tspan x="2887" y="1488.33">origin</tspan></text>
<text><tspan x="2929" y="1455">6@</tspan><tspan x="2929" y="1461.67">2.</tspan><tspan x="2922" y="1468.33">list.</tspan><tspan x="2919" y="1475">dnswl.</tspan><tspan x="2927" y="1481.67">org</tspan><tspan x="2919" y="1488.33">origin</tspan></text>
<text><tspan x="2960" y="1455">3@</tspan><tspan x="2953" y="1461.67">list.</tspan><tspan x="2950" y="1468.33">dnswl.</tspan><tspan x="2958" y="1475">org</tspan><tspan x="2953" y="1481.67">1 hop</tspan></text>
<text><tspan x="2991" y="1455">6@</tspan><tspan x="2991" y="1461.67">Y.</tspan><tspan x="2984" y="1468.33">list.</tspan><tspan x="2981" y="1475">dnswl.</tspan><tspan x="2989" y="1481.67">org</tspan><tspan x="2981" y="1488.33">origin</tspan></text>
<text><tspan x="3023" y="1455">9@</tspan><tspan x="3023" y="1461.67">3.</tspan><tspan x="3016" y="1468.33">list.</tspan><tspan x="3013" y="1475">dnswl.</tspan><tspan x="3021" y="1481.67">org</tspan><tspan x="3016" y="1488.33">1 hop</tspan></text>
<text><tspan x="3054" y="1455">9@</tspan><tspan x="3054" y="1461.67">2.</tspan><tspan x="3047" y="1468.33">list.</tspan><tspan x="3044" y="1475">dnswl.</tspan><tspan x="3052" y="1481.67">org</tspan><tspan x="3044" y="1488.33">3 hops</tspan></text>
<text><tspan x="3085" y="1455">9@</tspan><tspan x="3085" y="1461.67">Y.</tspan><tspan x="3078" y="1468.33">list.</tspan><tspan x="3075" y="1475">dnswl.</tspan><tspan x="3083" y="1481.67">org</tspan><tspan x="3075" y="1488.33">3 hops</tspan></text>
<text><tspan x="3116" y="1455">2@</tspan><tspan x="3109" y="1461.67">list.</tspan><tspan x="3106" y="1468.33">dnswl.</tspan><tspan x="3114" y="1475">org</tspan><tspan x="3106" y="1481.67">3 hops</tspan></text>
<text><tspan x="3148" y="1455">9@</tspan><tspan x="3148" y="1461.67">1.</tspan><tspan x="3141" y="1468.33">list.</tspan><tspan x="3138" y="1475">dnswl.</tspan><tspan x="3146" y="1481.67">org</tspan><tspan x="3141" y="1488.33">1 hop</tspan></text>
</g>
<text transform="translate(9,948) rotate(-90) scale(1,1.2)" x="0" y="0">Message Count or Spam Score</text>
</g>
</svg>
</body></html>
